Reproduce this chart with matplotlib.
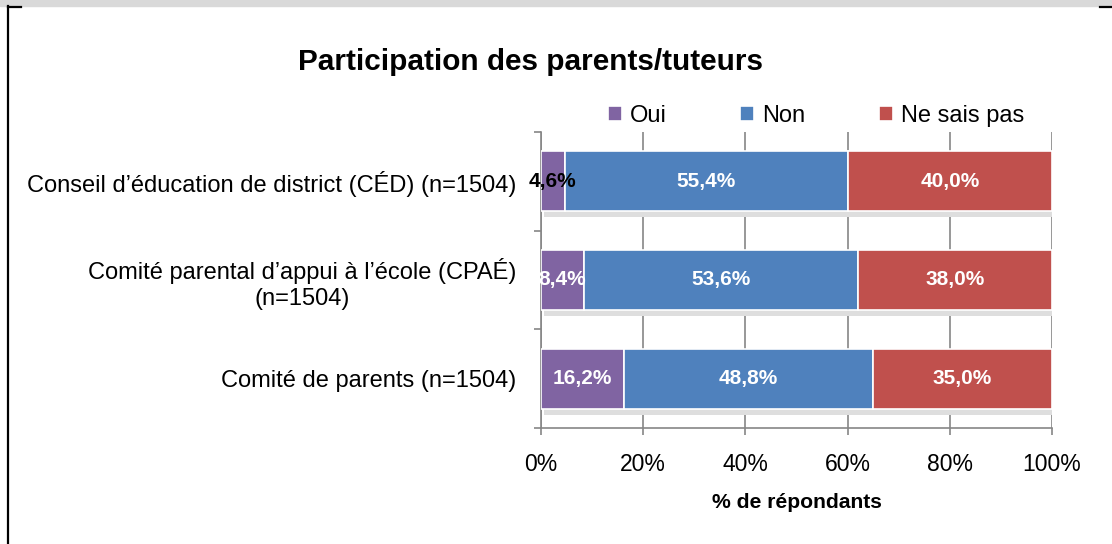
import matplotlib.pyplot as plt
import numpy as np

plt.rcParams['font.family'] = ['Liberation Sans', 'DejaVu Sans']

categories = ["Conseil d\u2019\u00e9ducation de district (C\u00c9D) (n=1504)",
              "Comit\u00e9 parental d\u2019appui \u00e0 l\u2019\u00e9cole (CPA\u00c9)\n(n=1504)",
              "Comit\u00e9 de parents (n=1504)"]
oui = [4.6, 8.4, 16.2]
non = [55.4, 53.6, 48.8]
nsp = [40.0, 38.0, 35.0]
series_names = ["Oui", "Non", "Ne sais pas"]
colors = ['#8064A2', '#4F81BD', '#C0504D']
xticks = [0, 20, 40, 60, 80, 100]

W, H = 1112, 544
fig = plt.figure(figsize=(W / 100, H / 100), dpi=100)

# page decoration: gray band at top and left border
fig.patches.append(plt.Rectangle((0, 1 - 6 / H), 1, 6 / H, transform=fig.transFigure,
                                 color='#d9d9d9', zorder=0))
fig.lines.append(plt.Line2D([8 / W, 8 / W], [0, 1 - 6 / H], transform=fig.transFigure,
                            color='black', lw=1.6))
fig.lines.append(plt.Line2D([8 / W, 21 / W], [1 - 6.5 / H, 1 - 6.5 / H], transform=fig.transFigure,
                            color='black', lw=1.6))
fig.lines.append(plt.Line2D([1100 / W, 1112 / W], [1 - 6.5 / H, 1 - 6.5 / H], transform=fig.transFigure,
                            color='black', lw=1.6))

ax = fig.add_axes([541 / W, 1 - 428 / H, (1052 - 541) / W, (428 - 132) / H])

y = np.arange(len(categories))
bh = 0.61
data = [oui, non, nsp]
left = np.zeros(len(categories))
total = np.sum(data, axis=0)

# shadow under the bars
ax.barh(y + 0.06, total, height=bh, left=0.5, color='#dedede', zorder=1, linewidth=0)

for vals, name, col in zip(data, series_names, colors):
    ax.barh(y, vals, height=bh, left=left, color=col, edgecolor='white',
            linewidth=1.2, label=name, zorder=3)
    for i, v in enumerate(vals):
        txt = f"{v:.1f}%".replace('.', ',')
        c = 'black' if v < 6 else 'white'
        ax.text(left[i] + v / 2, y[i], txt, ha='center', va='center',
                color=c, fontsize=15, fontweight='bold', zorder=4)
    left = left + np.array(vals)

ax.set_xlim(0, 100)
ax.set_ylim(2.5, -0.5)
ax.set_xticks(xticks)
ax.set_xticklabels([f"{t}%" for t in xticks], fontsize=16.5)
ax.set_yticks(y)
ax.set_yticklabels(categories, fontsize=17)
for lab in ax.get_yticklabels():
    lab.set_multialignment('center')
ax.set_yticks([-0.5, 0.5, 1.5, 2.5], minor=True)
ax.tick_params(axis='y', which='major', length=0, pad=18)
ax.tick_params(axis='y', which='minor', length=5, color='#868686', width=1.2)
ax.tick_params(axis='x', length=5, color='#868686', width=1.2, pad=13)

ax.grid(axis='x', color='#868686', linewidth=1.2, zorder=0)
ax.set_axisbelow(True)
for s in ['top', 'right']:
    ax.spines[s].set_visible(False)
for s in ['left', 'bottom']:
    ax.spines[s].set_color('#868686')
    ax.spines[s].set_linewidth(1.2)

ax.set_xlabel("% de r\u00e9pondants", fontsize=15.2, fontweight='bold', labelpad=12)

fig.text(530 / W, 1 - 62 / H, "Participation des parents/tuteurs", ha='center', va='center',
         fontsize=21.4, fontweight='bold')

handles, labels = ax.get_legend_handles_labels()
fig.legend(handles, labels, loc='center', bbox_to_anchor=(816 / W, 1 - 116 / H), ncol=3,
           frameon=False, fontsize=17, handlelength=0.6, handleheight=0.6,
           handletextpad=0.35, columnspacing=3.1)

fig.savefig('out.png', dpi=100)
